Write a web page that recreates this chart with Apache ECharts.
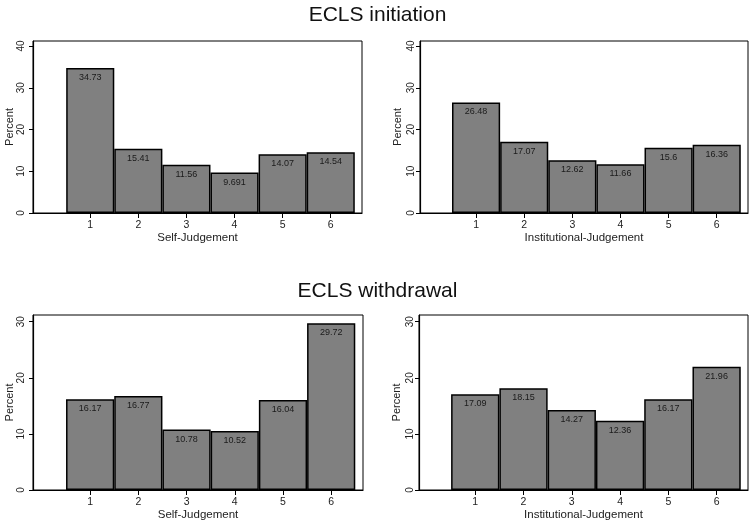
<!DOCTYPE html>
<html>
<head>
<meta charset="utf-8">
<script src="https://cdn.jsdelivr.net/npm/echarts@6/dist/echarts.min.js"></script>
<style>
html,body{margin:0;padding:0;background:#fff;}
#chart{width:755px;height:526px;}
</style>
</head>
<body>
<div id="chart"></div>
<script>
// ---- data ----
const categories = [1, 2, 3, 4, 5, 6];
const initiationSelf = [34.73, 15.41, 11.56, 9.691, 14.07, 14.54];
const initiationInst = [26.48, 17.07, 12.62, 11.66, 15.6, 16.36];
const withdrawalSelf = [16.17, 16.77, 10.78, 10.52, 16.04, 29.72];
const withdrawalInst = [17.09, 18.15, 14.27, 12.36, 16.17, 21.96];
const topTicks = [0, 10, 20, 30, 40];
const bottomTicks = [0, 10, 20, 30];
const titles = ['ECLS initiation', 'ECLS withdrawal'];
const xNames = ['Self-Judgement', 'Institutional-Judgement'];
const yName = 'Percent';

// ---- layout ----
const FONT = '"Liberation Sans", Arial, sans-serif';
const panels = [
  {data: initiationSelf, ticks: topTicks, ymax: 41.2, xName: xNames[0], box: [33, 41, 362, 213], xmin: -0.19, xmax: 6.65, lm: 7},
  {data: initiationInst, ticks: topTicks, ymax: 41.2, xName: xNames[1], box: [420, 41, 748, 213], xmin: -0.165, xmax: 6.65, lm: 4},
  {data: withdrawalSelf, ticks: bottomTicks, ymax: 31.2, xName: xNames[0], box: [33, 315, 363, 490], xmin: -0.185, xmax: 6.66, lm: 7},
  {data: withdrawalInst, ticks: bottomTicks, ymax: 31.2, xName: xNames[1], box: [419, 315, 748, 490], xmin: -0.165, xmax: 6.65, lm: 4}
];

const grid = [], xAxis = [], yAxis = [], series = [];
panels.forEach((p, i) => {
  const [l, t, r, b] = p.box;
  grid.push({left: l, top: t, width: r - l, height: b - t, show: true, borderColor: '#000', borderWidth: 1, backgroundColor: '#fff'});
  const unit = (r - l) / (p.xmax - p.xmin);
  xAxis.push({
    gridIndex: i, type: 'value', min: p.xmin, max: p.xmax,
    name: p.xName, nameLocation: 'middle', nameGap: 19,
    nameTextStyle: {fontFamily: FONT, fontSize: 11.5, color: '#222'},
    axisLine: {show: true, onZero: false, lineStyle: {color: '#000', width: 1.2}},
    axisTick: {show: true, length: 5, customValues: categories, lineStyle: {color: '#000'}},
    axisLabel: {show: true, margin: 7, customValues: categories, fontFamily: FONT, fontSize: 10.5, color: '#222'},
    splitLine: {show: false}
  });
  yAxis.push({
    gridIndex: i, type: 'value', min: 0, max: p.ymax,
    name: yName, nameLocation: 'middle', nameGap: 17, nameRotate: 90,
    nameTextStyle: {fontFamily: FONT, fontSize: 11, color: '#222'},
    axisLine: {show: true, onZero: false, lineStyle: {color: '#000', width: 1.2}},
    axisTick: {show: true, length: 4, customValues: p.ticks, lineStyle: {color: '#000'}},
    axisLabel: {show: true, rotate: 90, margin: p.lm, customValues: p.ticks, fontFamily: FONT, fontSize: 10, color: '#222'},
    splitLine: {show: false}
  });
  series.push({
    type: 'bar', xAxisIndex: i, yAxisIndex: i,
    data: categories.map((c, k) => [c, p.data[k]]),
    barWidth: unit,
    itemStyle: {color: '#808080', borderColor: '#000', borderWidth: 1.5},
    label: {show: true, position: 'insideTop', distance: 5, formatter: (d) => String(d.value[1]),
            fontFamily: FONT, fontSize: 9, color: '#1a1a1a'},
    silent: true, animation: false
  });
});

const chart = echarts.init(document.getElementById('chart'), null, {renderer: 'canvas'});
chart.setOption({
  backgroundColor: '#fff',
  animation: false,
  title: [
    {text: titles[0], left: 'center', top: 0, textStyle: {fontFamily: FONT, fontSize: 21, fontWeight: 'normal', color: '#111'}},
    {text: titles[1], left: 'center', top: 276, textStyle: {fontFamily: FONT, fontSize: 21, fontWeight: 'normal', color: '#111'}}
  ],
  grid, xAxis, yAxis, series
});
</script>
</body>
</html>
